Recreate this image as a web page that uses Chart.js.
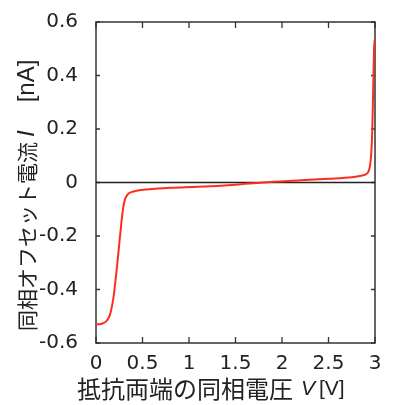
<!DOCTYPE html>
<html lang="ja">
<head>
  <meta charset="UTF-8">
  <script src="https://cdn.jsdelivr.net/npm/chart.js"></script>
  <title>同相オフセット電流</title>
  <style>
    body { margin: 0; padding: 0; background: #fff; overflow: hidden; }
    .chart-box { width: 398px; height: 405px; }
  </style>
</head>
<body>
  <div class="chart-box">
    <canvas id="offsetChart" width="398" height="405"></canvas>
  </div>

  <script>
    // values
    const voltage = [0, 0.03, 0.08, 0.12, 0.15, 0.17, 0.19, 0.21, 0.23, 0.25, 0.27, 0.29, 0.31, 0.34, 0.38, 0.45,
      0.55, 0.8, 1.1, 1.5, 1.8, 2.2, 2.5, 2.75, 2.85, 2.9, 2.925, 2.945, 2.96, 2.97, 2.98, 2.99, 3.0];
    const current = [-0.530, -0.530, -0.526, -0.515, -0.495, -0.465, -0.425, -0.365, -0.300, -0.230, -0.160, -0.100,
      -0.065, -0.045, -0.036, -0.030, -0.026, -0.020, -0.016, -0.008, 0.000, 0.008, 0.014, 0.020, 0.025, 0.030,
      0.038, 0.060, 0.110, 0.190, 0.340, 0.500, 0.540];
    const xTicks = [0, 0.5, 1, 1.5, 2, 2.5, 3];
    const yTicks = [-0.6, -0.4, -0.2, 0, 0.2, 0.4, 0.6];
    const xTitle = ['抵抗両端の同相電圧', 'V', '[V]'];
    const yTitle = ['同相オフセット電流', 'I', '[nA]'];

    const jp = "'Noto Sans CJK JP'";
    const frameColor = '#333';

    // draws label pieces: japanese text, italic symbol, unit, with a gap before each
    function drawPieces(ctx, parts, sizes, gaps, x, y) {
      let cx = x;
      parts.forEach((p, i) => {
        cx += gaps[i];
        ctx.font = (i === 1 ? 'italic ' : '') + sizes[i] + 'px ' + (i === 0 ? jp : "'Liberation Sans'");
        ctx.fillText(p, cx, y);
        cx += ctx.measureText(p).width;
      });
    }

    const framePlugin = {
      id: 'frame',
      beforeDatasetsDraw(chart) {
        const { ctx, chartArea: a, scales } = chart;
        ctx.save();
        ctx.strokeStyle = frameColor;
        ctx.lineWidth = 1.5;
        ctx.strokeRect(a.left, a.top, a.right - a.left, a.bottom - a.top);
        ctx.lineWidth = 1.3;
        ctx.beginPath();
        scales.x.ticks.forEach(t => {
          const px = scales.x.getPixelForValue(t.value);
          ctx.moveTo(px, a.bottom); ctx.lineTo(px, a.bottom - 6);
          ctx.moveTo(px, a.top); ctx.lineTo(px, a.top + 6);
        });
        scales.y.ticks.forEach(t => {
          const py = scales.y.getPixelForValue(t.value);
          ctx.moveTo(a.left, py); ctx.lineTo(a.left + 4, py);
          ctx.moveTo(a.right, py); ctx.lineTo(a.right - 4, py);
        });
        ctx.stroke();
        ctx.restore();
      },
      afterDraw(chart) {
        const ctx = chart.ctx;
        ctx.save();
        ctx.fillStyle = '#222';
        ctx.textAlign = 'left';
        ctx.textBaseline = 'middle';
        drawPieces(ctx, xTitle, [24, 21, 21], [0, 8, 4], 77, 389);
        ctx.translate(27, 331);
        ctx.rotate(-Math.PI / 2);
        drawPieces(ctx, yTitle, [21, 24, 24], [0, 5, 28], 0, 0);
        ctx.restore();
      }
    };

    const ctx = document.getElementById('offsetChart').getContext('2d');
    const curve = voltage.map((v, i) => ({ x: v, y: current[i] }));

    new Chart(ctx, {
      type: 'scatter',
      data: {
        datasets: [{
          data: curve,
          showLine: true,
          borderColor: 'rgb(255, 45, 30)',
          borderWidth: 2,
          pointRadius: 0,
          cubicInterpolationMode: 'monotone'
        }, {
          data: [{ x: xTicks[0], y: 0 }, { x: xTicks[xTicks.length - 1], y: 0 }],
          showLine: true,
          borderColor: '#222',
          borderWidth: 1.5,
          pointRadius: 0
        }]
      },
      options: {
        responsive: false,
        animation: false,
        layout: { padding: { top: 17, right: 23, left: 0, bottom: 0 } },
        plugins: { legend: { display: false }, tooltip: { enabled: false } },
        scales: {
          x: {
            type: 'linear',
            min: 0,
            max: 3,
            grid: { display: false },
            border: { display: false },
            afterBuildTicks: s => { s.ticks = xTicks.map(v => ({ value: v })); },
            afterFit: s => { s.height = 62; },
            ticks: {
              padding: 1,
              color: '#222',
              font: { family: 'DejaVu Sans', size: 20 },
              callback: v => String(Math.round(v * 10) / 10)
            }
          },
          y: {
            type: 'linear',
            min: -0.6,
            max: 0.6,
            grid: { display: false },
            border: { display: false },
            afterBuildTicks: s => { s.ticks = yTicks.map(v => ({ value: v })); },
            afterFit: s => { s.width = 96; },
            ticks: {
              padding: 10,
              color: '#222',
              font: { family: 'DejaVu Sans', size: 20 },
              callback: v => String(Math.round(v * 10) / 10)
            }
          }
        }
      },
      plugins: [framePlugin]
    });
  </script>
</body>
</html>
